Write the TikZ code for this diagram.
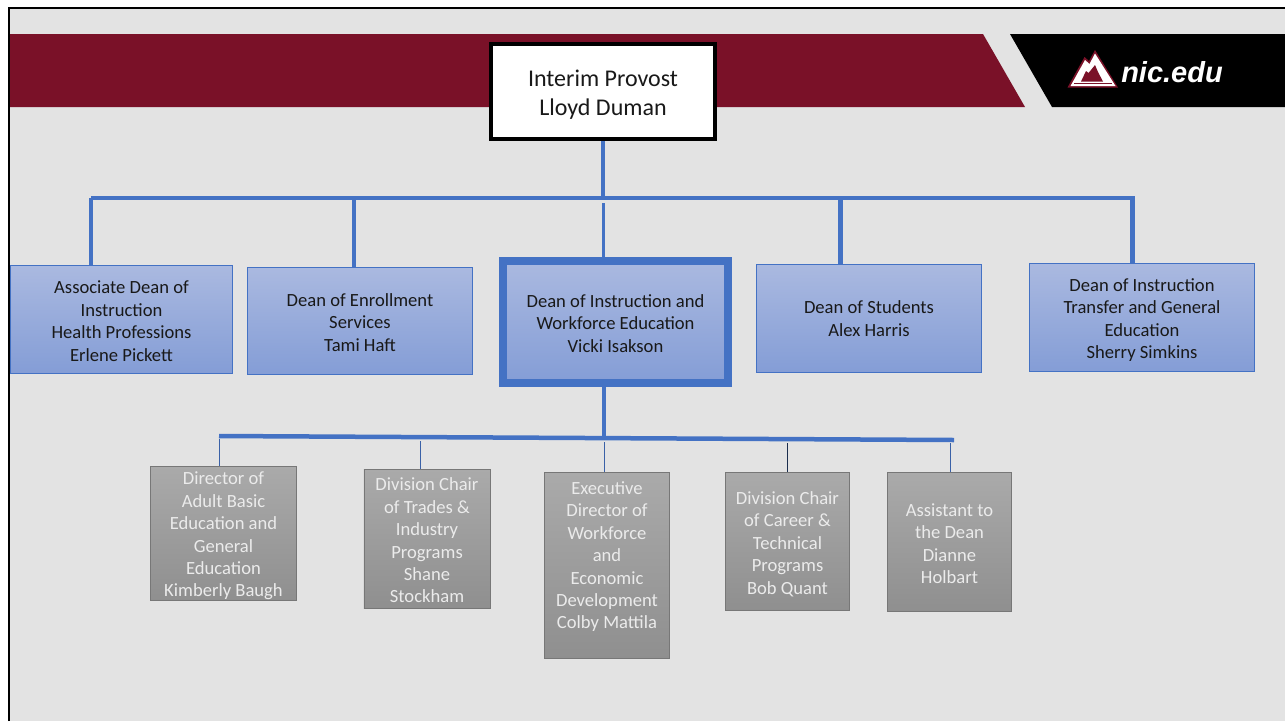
\documentclass[tikz,border=0pt]{standalone}
\usepackage{fontspec}
\setmainfont{Carlito}
\newfontfamily\logofont{Liberation Sans}
\definecolor{maroon}{HTML}{7A1128}
\definecolor{slide}{HTML}{E3E3E3}
\definecolor{barblue}{HTML}{4472C4}
\definecolor{boxtop}{HTML}{AAB9E0}
\definecolor{boxbot}{HTML}{849DD6}
\definecolor{greytop}{HTML}{AAAAAA}
\definecolor{greybot}{HTML}{8F8F8F}
\newcommand{\lowtext}[1]{\rule{0pt}{#1}}
\tikzset{
  dean/.style={draw=barblue,line width=0.8pt,top color=boxtop,bottom color=boxbot,
    align=center,text=black!90,font=\fontsize{18.6}{22.4}\selectfont,inner sep=0pt},
  chair/.style={draw=black!30!greytop,line width=0.8pt,top color=greytop,bottom color=greybot,
    align=center,text=white!92!black,font=\fontsize{18.6}{22.4}\selectfont,inner sep=0pt},
  bigbar/.style={draw=barblue,line width=4.5pt},
  thinbar/.style={draw=barblue!85!black,line width=1pt}
}
\begin{document}
\begin{tikzpicture}[x=1pt,y=-1pt]
\useasboundingbox (0,0) rectangle (1285,721);
% slide
\fill[white] (0,0) rectangle (1285,721);
\fill[slide] (9,8) rectangle (1285,721);
\draw[black,line width=2.5pt] (9,721)--(9,8)--(1285,8);
% header
\fill[maroon] (10,34)--(983,34)--(1025,107)--(10,107)--cycle;
\fill[black] (1010,34)--(1285,34)--(1285,107)--(1052,107)--cycle;
% logo
\fill[maroon] (1067.5,87.5)--(1084.5,57)--(1089,61)--(1095,50)--(1118,87.5)--cycle;
\fill[white] (1070.5,86)--(1085,60)--(1089.5,64)--(1095,53.5)--(1115.5,86)--cycle;
\fill[maroon] (1081,81.5)--(1086,71)--(1088.5,73)--(1095,65)--(1098,72)--(1103,81.5)--cycle;
\draw[maroon,line width=0.7pt] (1074,83.8)--(1112,83.8);
\node (nic) at (1172,72) {\logofont\fontsize{29}{29}\selectfont\color{white}\bfseries\itshape nic.edu};
% top box
\node[draw=black,line width=4pt,fill=white,minimum width=224pt,minimum height=95pt,align=center,
  text=black!90,font=\fontsize{24}{29}\selectfont] (provost) at (603,91.5) {\lowtext{22pt}Interim Provost\\Lloyd Duman};
% deans
\node[dean,minimum width=222.2pt,minimum height=108.2pt] (assoc) at (121.5,319.5)
  {\lowtext{16pt}Associate Dean of\\Instruction\\Health Professions\\Erlene Pickett};
\node[dean,minimum width=225.2pt,minimum height=107.2pt] (enroll) at (360,321)
  {\lowtext{16pt}Dean of Enrollment\\Services\\Tami Haft};
\node[dean,draw=barblue,line width=8pt,minimum width=225pt,minimum height=122pt] (workforce) at (615.5,322)
  {\lowtext{16pt}Dean of Instruction and\\Workforce Education\\Vicki Isakson};
\node[dean,minimum width=225.2pt,minimum height=108.2pt] (students) at (869,318.5)
  {Dean of Students\\Alex Harris};
\node[dean,minimum width=225.2pt,minimum height=108.2pt] (transfer) at (1142,317.5)
  {\lowtext{18pt}Dean of Instruction\\Transfer and General\\Education\\Sherry Simkins};
% chairs
\node[chair,minimum width=146.2pt,minimum height=134.2pt] (adult) at (223.5,533.5)
  {\lowtext{18pt}Director of\\Adult Basic\\Education and\\General\\Education\\Kimberly Baugh};
\node[chair,minimum width=126.2pt,minimum height=139.2pt] (trades) at (427,539)
  {\lowtext{16pt}Division Chair\\of Trades \&\\Industry\\Programs\\Shane\\Stockham};
\node[chair,minimum width=125.2pt,minimum height=186.2pt] (exec) at (607,565.5)
  {Executive\\Director of\\Workforce\\and\\Economic\\Development\\Colby Mattila\\[-2pt]};
\node[chair,minimum width=124.2pt,minimum height=138.2pt] (career) at (787.5,541.5)
  {\lowtext{18pt}Division Chair\\of Career \&\\Technical\\Programs\\Bob Quant};
\node[chair,minimum width=124.2pt,minimum height=139.2pt] (assistant) at (949.5,542)
  {\lowtext{16pt}Assistant to\\the Dean\\Dianne\\Holbart};
% upper bar
\coordinate (ua) at (91,198);
\coordinate (ub) at (354,198);
\coordinate (uc) at (603,198);
\coordinate (uw) at (603,203);
\coordinate (ud) at (840.5,198);
\coordinate (ue) at (1132.5,198);
\coordinate (uz) at (1135,198);
\draw[bigbar] (ua)--(uz);
\draw[bigbar] (provost.south)--(uc);
\draw[bigbar] (ua)--(ua |- assoc.north);
\draw[bigbar] (ub)--(ub |- enroll.north);
\draw[barblue,line width=3pt] (uw)--(uw |- workforce.north);
\draw[bigbar] (ud)--(ud |- students.north);
\draw[bigbar] (ue)--(ue |- transfer.north);
% lower bar
\coordinate (la) at (219,436);
\coordinate (la2) at (219,439);
\coordinate (lb) at (420,441);
\coordinate (lc) at (604,437.5);
\coordinate (lc2) at (604,442);
\coordinate (ld) at (787,443);
\coordinate (le) at (950,443);
\coordinate (lz) at (954,440);
\draw[bigbar] (la)--(lz);
\draw[bigbar] (lc |- workforce.south)--(lc);
\draw[thinbar] (la2)--(la2 |- adult.north);
\draw[thinbar] (lb)--(lb |- trades.north);
\draw[thinbar] (lc2)--(lc2 |- exec.north);
\draw[draw=black!60!barblue,line width=1pt] (ld)--(ld |- career.north);
\draw[thinbar] (le)--(le |- assistant.north);
\end{tikzpicture}
\end{document}
